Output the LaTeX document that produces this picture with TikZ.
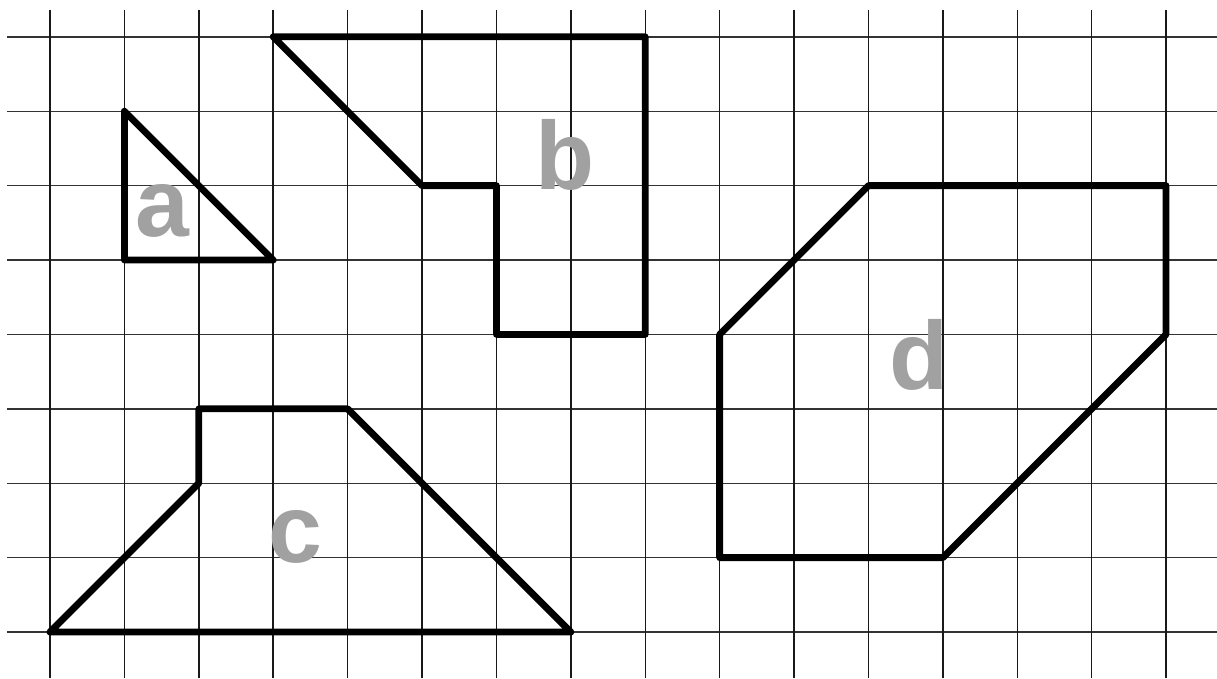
\documentclass[tikz,border=0pt]{standalone}
\usepackage{fontspec}
\setmainfont{Liberation Sans}
\usepackage{xcolor}

\begin{document}
\begin{tikzpicture}[scale=1]
            \useasboundingbox (-0.672,-0.618) rectangle (15.685,8.495);
            \foreach \y in {0,...,8} \draw[line width=0.55pt,black!80] (-0.58,\y) -- (15.685,\y);
            \foreach \x in {0,...,15} \draw[line width=0.55pt,black!90] (\x,-0.618) -- (\x,8.36);
            \draw[line width=2.6pt,line join=round,line cap=round] (1,7) -- (1,5) -- (3,5) -- cycle;
            \draw[line width=2.6pt,line join=round,line cap=round] (3,8) -- (8,8) -- (8,4) -- (6,4) -- (6,6) -- (5,6) -- cycle;
            \draw[line width=2.6pt,line join=round,line cap=round] (0,0) -- (7,0) -- (4,3) -- (2,3) -- (2,2) -- cycle;
            \draw[line width=2.6pt,line join=round,line cap=round] (9,4) -- (11,6) -- (15,6) -- (15,4) -- (12,1) -- (9,1) -- cycle;
            \node (a) at (1.505,5.659) [inner sep=0pt,text=black!37,font=\fontsize{37}{37}\selectfont\bfseries] {a};
            \node (b) at (6.922,6.411) [inner sep=0pt,text=black!37,font=\fontsize{37}{37}\selectfont\bfseries] {b};
            \node (c) at (3.293,1.277) [inner sep=0pt,text=black!37,font=\fontsize{37}{37}\selectfont\bfseries] {c};
            \node (d) at (11.68,3.723) [inner sep=0pt,text=black!37,font=\fontsize{37}{37}\selectfont\bfseries] {d};
        \end{tikzpicture}
\end{document}
